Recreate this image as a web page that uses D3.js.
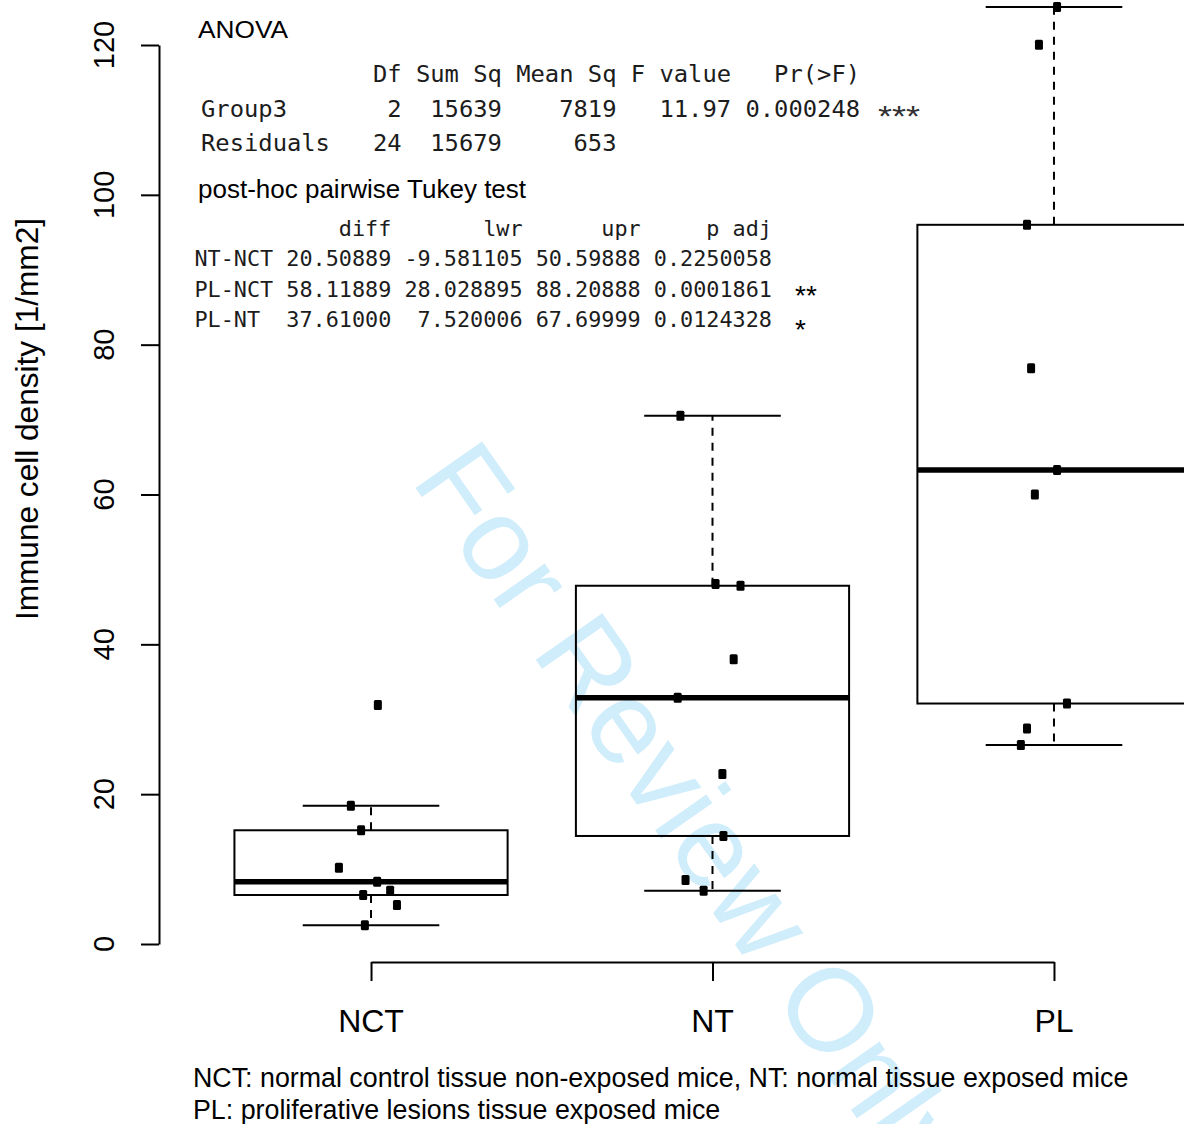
<!DOCTYPE html>
<html>
<head>
<meta charset="utf-8">
<script src="https://cdn.jsdelivr.net/npm/d3@7"></script>
<style>
  html, body { margin: 0; padding: 0; background: #fff; }
  svg { display: block; }
  .mono { font-family: "DejaVu Sans Mono", monospace; white-space: pre; fill: #1c1c1c; }
  .sans { font-family: "Liberation Sans", Arial, Helvetica, sans-serif; fill: #000; }
</style>
</head>
<body>
<svg id="chart" width="1184" height="1124"></svg>
<script>
// Immune cell density per tissue group (9 samples each)
const categories = ["NCT", "NT", "PL"];
const nctValues = [31.9, 18.46, 15.18, 10.19, 8.32, 7.12, 6.54, 5.21, 2.49];
const ntValues  = [70.52, 48.05, 47.82, 38.0, 32.88, 22.69, 14.42, 8.54, 7.12];
const plValues  = [125.07, 120.04, 96.0, 76.85, 63.26, 60.0, 32.1, 28.75, 26.56];
// horizontal jitter of each stripchart point (in group units)
const nctJitter = [0.020, -0.059, -0.029, -0.094, 0.018, 0.056, -0.023, 0.076, -0.018];
const ntJitter  = [-0.094, 0.009, 0.082, 0.062, -0.102, 0.029, 0.032, -0.079, -0.026];
const plJitter  = [0.009, -0.044, -0.079, -0.067, 0.009, -0.056, 0.038, -0.079, -0.097];

const yTicks = [0, 20, 40, 60, 80, 100, 120];
const yLabel = "Immune cell density [1/mm2]";

const anovaTitle = "ANOVA";
const anovaLines = [
  "            Df Sum Sq Mean Sq F value   Pr(>F)",
  "Group3       2  15639    7819   11.97 0.000248",
  "Residuals   24  15679     653"
];
const anovaStars = "***";
const tukeyTitle = "post-hoc pairwise Tukey test";
const tukeyLines = [
  "           diff       lwr      upr     p adj",
  "NT-NCT 20.50889 -9.581105 50.59888 0.2250058",
  "PL-NCT 58.11889 28.028895 88.20888 0.0001861",
  "PL-NT  37.61000  7.520006 67.69999 0.0124328"
];
const tukeyStars = ["", "", "**", "*"];
const footnotes = [
  "NCT: normal control tissue non-exposed mice, NT: normal tissue exposed mice",
  "PL: proliferative lesions tissue exposed mice"
];
const watermark = "For Review Only";

const groups = [
  { name: categories[0], values: nctValues, jitter: nctJitter },
  { name: categories[1], values: ntValues,  jitter: ntJitter },
  { name: categories[2], values: plValues,  jitter: plJitter }
];

const svg = d3.select("#chart");

// Scales: groups sit at 1, 2, 3 on a 0.38..3.62 range (R boxplot padding)
const x = d3.scaleLinear().domain([0.38, 3.62]).range([159.3, 1265.7]);
const y = d3.scaleLinear().domain([0, 120]).range([944, 45]);
const boxHalf = 0.4, capHalf = 0.2;

// Tukey five-number summary with 1.5*IQR whiskers
function boxStats(vals) {
  const s = vals.slice().sort(d3.ascending);
  const n = s.length;
  const n4 = Math.floor((n + 3) / 2) / 2;
  const d = [1, n4, (n + 1) / 2, n + 1 - n4, n];
  const fn = d.map(k => 0.5 * (s[Math.floor(k) - 1] + s[Math.ceil(k) - 1]));
  const iqr = fn[3] - fn[1];
  const lo = s.find(v => v >= fn[1] - 1.5 * iqr);
  const hi = s.slice().reverse().find(v => v <= fn[3] + 1.5 * iqr);
  return { q1: fn[1], med: fn[2], q3: fn[3], lo, hi };
}

// Watermark (behind everything)
svg.append("text")
  .attr("class", "sans")
  .attr("transform", "translate(410,480) rotate(55)")
  .style("font-size", "118px")
  .style("fill", "#d0edfb")
  .text(watermark);

// Boxes
const g = svg.append("g");
groups.forEach((grp, i) => {
  const c = i + 1;
  const st = boxStats(grp.values);
  const gg = g.append("g");
  // dashed whiskers
  gg.append("line")
    .attr("x1", x(c)).attr("x2", x(c)).attr("y1", y(st.q3)).attr("y2", y(st.hi))
    .attr("stroke", "#000").attr("stroke-width", 2).attr("stroke-dasharray", "8,7");
  gg.append("line")
    .attr("x1", x(c)).attr("x2", x(c)).attr("y1", y(st.q1)).attr("y2", y(st.lo))
    .attr("stroke", "#000").attr("stroke-width", 2).attr("stroke-dasharray", "8,7");
  // staples
  [st.hi, st.lo].forEach(v => {
    gg.append("line")
      .attr("x1", x(c - capHalf)).attr("x2", x(c + capHalf)).attr("y1", y(v)).attr("y2", y(v))
      .attr("stroke", "#000").attr("stroke-width", 2);
  });
  // box
  gg.append("rect")
    .attr("x", x(c - boxHalf)).attr("y", y(st.q3))
    .attr("width", x(c + boxHalf) - x(c - boxHalf)).attr("height", y(st.q1) - y(st.q3))
    .attr("fill", "none").attr("stroke", "#000").attr("stroke-width", 2);
  // median
  gg.append("line")
    .attr("x1", x(c - boxHalf)).attr("x2", x(c + boxHalf)).attr("y1", y(st.med)).attr("y2", y(st.med))
    .attr("stroke", "#000").attr("stroke-width", 5.5);
  // points
  gg.selectAll("rect.pt").data(grp.values).enter().append("rect")
    .attr("class", "pt")
    .attr("x", (v, j) => x(c + grp.jitter[j]) - 4)
    .attr("y", v => y(v) - 5)
    .attr("width", 8).attr("height", 10).attr("rx", 1.5)
    .attr("fill", "#000");
});

// Y axis
const yAxis = d3.axisLeft(y).tickValues(yTicks).tickSize(18).tickSizeOuter(0).tickFormat("");
const ya = svg.append("g").attr("transform", "translate(159,0)").call(yAxis);
ya.selectAll("path, line").attr("stroke", "#000").attr("stroke-width", 2);
svg.append("g").selectAll("text").data(yTicks).enter().append("text")
  .attr("class", "sans")
  .attr("transform", d => `translate(114,${y(d)}) rotate(-90)`)
  .attr("text-anchor", "middle")
  .style("font-size", "29px")
  .text(d => d);

svg.append("text")
  .attr("class", "sans")
  .attr("transform", "translate(38,419) rotate(-90)")
  .attr("text-anchor", "middle")
  .style("font-size", "31.6px")
  .text(yLabel);

// X axis (spans first to last group only)
const xs = d3.scaleLinear().domain([1, 3]).range([x(1), x(3)]);
const xAxis = d3.axisBottom(xs).tickValues([1, 2, 3]).tickSize(19).tickSizeOuter(0).tickFormat("");
const xa = svg.append("g").attr("transform", "translate(0,962)").call(xAxis);
xa.selectAll("path, line").attr("stroke", "#000").attr("stroke-width", 2);
svg.append("g").selectAll("text").data(categories).enter().append("text")
  .attr("class", "sans")
  .attr("x", (d, i) => x(i + 1)).attr("y", 1032)
  .attr("text-anchor", "middle")
  .style("font-size", "32px")
  .text(d => d);

// ANOVA table
svg.append("text").attr("class", "sans")
  .attr("x", 198).attr("y", 38)
  .style("font-size", "24px")
  .attr("textLength", 90).attr("lengthAdjust", "spacingAndGlyphs")
  .text(anovaTitle);
svg.append("g").selectAll("text").data(anovaLines).enter().append("text")
  .attr("class", "mono")
  .attr("x", 201).attr("y", (d, i) => [82, 116.5, 150.5][i])
  .style("font-size", "23.8px")
  .text(d => d);
svg.append("text").attr("class", "sans")
  .attr("x", 878).attr("y", 126)
  .style("font-size", "30px")
  .style("fill", "#333")
  .attr("textLength", 42).attr("lengthAdjust", "spacingAndGlyphs")
  .text(anovaStars);

// Tukey table
svg.append("text").attr("class", "sans")
  .attr("x", 198).attr("y", 198)
  .style("font-size", "26px")
  .text(tukeyTitle);
svg.append("g").selectAll("text").data(tukeyLines).enter().append("text")
  .attr("class", "mono")
  .attr("x", 194.5).attr("y", (d, i) => 236 + i * 30.4)
  .style("font-size", "21.8px")
  .text(d => d);
svg.append("g").selectAll("text").data(tukeyStars).enter().append("text")
  .attr("class", "sans")
  .attr("x", 795).attr("y", (d, i) => 236 + i * 30.4 + (i === 3 ? 12 : 8))
  .style("font-size", "28px")
  .text(d => d);

// Footnotes
svg.append("g").selectAll("text").data(footnotes).enter().append("text")
  .attr("class", "sans")
  .attr("x", 193).attr("y", (d, i) => 1087 + i * 32)
  .style("font-size", "26.8px")
  .text(d => d);
</script>
</body>
</html>
